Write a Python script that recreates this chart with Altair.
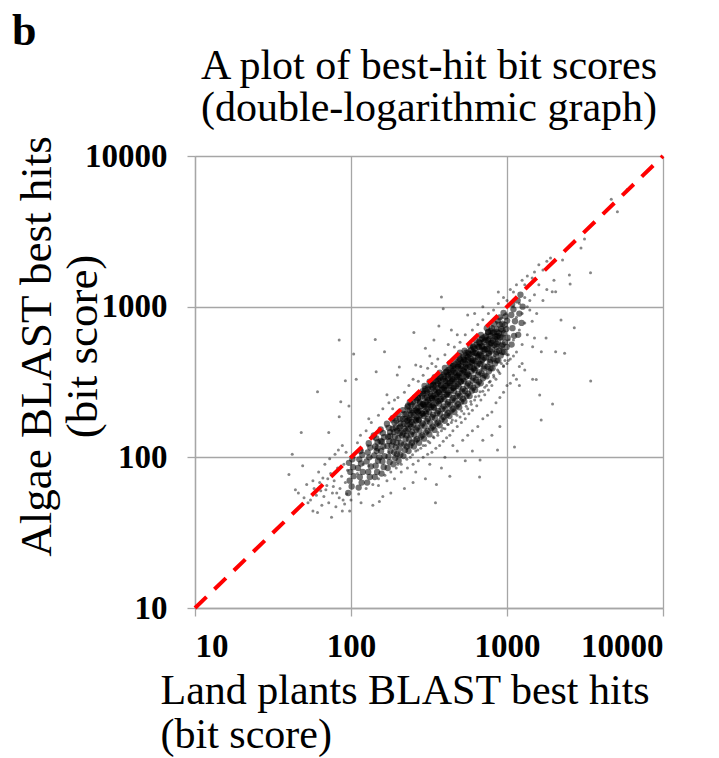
import altair as alt
import pandas as pd

title_lines = ["A plot of best-hit bit scores", "(double-logarithmic graph)"]
x_title = ["Land plants BLAST best hits", "(bit score)"]
y_title = ["Algae BLAST best hits", "(bit score)"]
tick_values = [10, 100, 1000, 10000]
diag_land = [10, 10000]
diag_algae = [10, 10000]
panel_label = ["b"]

# dense core of the cloud (land plants score, algae score)
core_pts = [
    (96,58),(101,64),(98,70),(104,75),(99,80),(103,86),(97,92),(102,97),
    (112,63),(117,68),(114,74),(119,80),(111,85),(116,91),(113,97),(118,104),(115,110),
    (127,68),(132,74),(129,80),(134,87),(126,94),(131,100),(128,108),(133,116),(130,124),
    (142,74),(147,80),(144,88),(149,95),(141,103),(146,110),(143,118),(148,126),(145,134),(140,140),
    (157,78),(162,86),(159,94),(164,102),(156,110),(161,118),(158,127),(163,136),(160,145),(155,153),
    (172,85),(177,93),(174,101),(179,110),(171,119),(176,128),(173,137),(178,147),(175,157),(170,167),
    (187,90),(192,99),(189,108),(194,117),(186,127),(191,137),(188,147),(193,158),(190,170),(185,182),
    (202,95),(207,104),(204,114),(209,124),(201,134),(206,145),(203,156),(208,168),(205,180),(200,193),
    (217,102),(222,112),(219,122),(224,133),(216,144),(221,155),(218,167),(223,180),(220,193),(215,206),
    (234,110),(240,120),(236,131),(242,142),(233,154),(239,166),(235,178),(241,191),(237,205),(232,220),(238,232),
    (253,118),(259,129),(255,141),(262,153),(251,165),(258,178),(254,191),(261,205),(256,219),(250,234),(257,250),
    (273,125),(280,137),(275,150),(283,163),(271,176),(278,190),(274,204),(281,218),(276,233),(270,248),(277,265),
    (294,133),(302,146),(297,160),(306,174),(292,188),(300,202),(295,217),(304,232),(298,248),(291,265),(299,283),(296,298),
    (318,142),(327,156),(321,170),(331,185),(316,200),(325,215),(320,231),(329,247),(323,264),(315,282),(324,300),(319,318),
    (343,152),(353,167),(346,182),(357,197),(341,213),(350,229),(345,246),(355,263),(348,281),(340,300),(349,320),(344,340),
    (370,163),(381,178),(373,194),(385,210),(367,227),(378,244),(372,262),(383,281),(375,300),(366,320),(376,342),(371,365),
    (399,175),(411,191),(403,208),(416,225),(397,243),(408,261),(401,280),(413,300),(405,321),(396,343),(406,366),(400,392),
    (428,188),(441,205),(432,223),(446,241),(426,260),(438,279),(431,299),(444,320),(435,342),(425,365),(436,390),(430,420),
    (460,200),(474,218),(465,237),(480,256),(457,276),(471,297),(463,318),(477,340),(468,363),(456,388),(469,414),(462,445),
    (494,215),(509,234),(499,254),(516,274),(491,295),(506,317),(497,339),(513,362),(502,387),(490,413),(504,440),(496,470),(500,495),
    (533,235),(550,255),(538,276),(556,297),(531,320),(547,343),(536,367),(553,392),(541,418),(530,445),(544,475),(535,510),
    (576,255),(595,277),(582,300),(602,323),(573,347),(591,372),(580,398),(598,425),(586,453),(572,483),(589,515),(578,550),
    (625,280),(646,303),(632,327),(653,352),(622,378),(642,405),(629,433),(649,462),(636,493),(620,525),(639,560),(627,600),
    (678,310),(701,335),(686,361),(710,388),(674,416),(697,445),(683,475),(706,507),(690,540),(672,575),(693,615),(680,650),
    (740,345),(766,372),(749,400),(776,430),(736,460),(762,492),(745,525),(772,560),(754,597),(733,636),(757,680),(742,720),
    (808,390),(837,420),(817,452),(847,485),(804,520),(832,556),(813,594),(842,633),(822,675),(800,720),(826,770),
    (880,440),(912,475),(890,510),(923,547),(876,585),(907,625),(886,667),(918,712),(895,760),(872,810),(899,850),
    (960,500),(996,540),(972,580),(1010,622),(955,665),(990,710),(968,758),(1003,808),(978,860),(950,910),
    (1070,560),(1110,640),(1085,720),(1125,800),(1065,880),(1100,960),(1080,1040),
    (1180,650),(1240,780),(1200,900),(1260,1000),(1170,1100),(1220,1200),
]

# extra density just below the diagonal
upper_pts = [
    (152,100),(148,115),(155,128),(182,120),(178,138),(185,155),
    (212,140),(207,160),(215,180),(243,160),(237,182),(246,205),
    (272,178),(267,202),(276,228),(269,250),(303,195),(297,222),(307,250),(300,275),
    (338,215),(331,245),(342,275),(335,305),(373,238),(366,270),(378,302),(370,335),
    (414,262),(405,297),(419,333),(410,370),(455,290),(446,328),(460,367),(450,405),
    (505,320),(494,362),(510,405),(498,450),(556,352),(543,398),(562,445),(548,495),
    (616,390),(603,440),(622,492),(607,545),(686,435),(672,490),(692,548),(677,605),
    (766,485),(752,545),(772,610),(757,675),(857,545),(842,610),(862,680),
    (225,150),(262,175),(288,195),(318,222),(352,250),(392,282),(432,312),(478,345),
    (528,382),(585,425),(648,470),(718,520),(795,575),(880,640),
    (230,175),(268,200),(292,225),(325,255),(360,288),(400,322),(440,356),(488,395),
    (540,440),(595,485),(660,540),(730,600),(810,665),
]

# points between the columns of the core
mid_pts = [
    (197,105),(196,125),(198,150),(195,175),
    (228,118),(227,140),(229,165),(226,195),(230,215),
    (246,125),(247,148),(245,172),(248,198),(244,225),
    (265,132),(266,158),(264,184),(267,212),(263,240),
    (287,140),(288,168),(286,196),(289,225),(285,255),(288,275),
    (310,150),(311,180),(309,210),(312,240),(308,270),(311,290),
    (335,160),(336,192),(334,222),(337,255),(333,290),(336,315),
    (362,170),(363,203),(361,236),(364,270),(360,308),(363,330),
    (392,185),(393,218),(391,252),(394,290),(390,330),(393,355),
    (420,197),(421,232),(419,270),(422,310),(418,352),(421,380),
    (452,210),(453,248),(451,288),(454,330),(450,376),(453,405),
    (486,225),(487,265),(485,307),(488,350),(484,400),(487,430),
    (522,245),(523,285),(521,330),(524,375),(520,428),(523,460),
    (562,265),(563,310),(561,358),(564,408),(560,462),(563,495),
    (608,290),(609,338),(607,388),(610,440),(606,500),(609,535),
    (660,318),(661,368),(659,420),(662,478),(658,540),(661,580),
    (718,350),(719,402),(717,458),(720,520),(716,585),(719,625),
    (785,390),(786,445),(784,505),(787,570),(783,640),(786,690),
    (860,440),(861,500),(859,565),(862,635),(858,710),
    (935,500),(936,560),(934,625),(937,695),(933,770),
]

# sparse points around the cloud
halo_pts = [
    (40,77),(42,105),(44,61),(46,58),(48,146),(49,88),(53,50),(57,44),(61,43),(61,272),
    (66,73),(69,61),(72,146),(75,40),(81,58),(84,186),(86,234),(88,44),(92,322),(97,219),
    (98,44),(104,485),(108,330),(116,50),(138,48),(152,51),
    (55,52),(58,62),(60,56),(63,68),(65,48),(67,55),(70,65),(72,50),(74,78),(76,58),
    (78,70),(80,47),(82,85),(85,62),(87,75),(89,52),(90,90),(92,68),(94,57),(95,82),
    (62,80),(68,90),(73,98),(79,105),(83,112),(88,120),(93,108),(57,70),(64,60),(71,72),
    (77,64),(84,54),(91,49),(50,54),(52,66),
    (84,600),(143,605),(253,675),(164,502),(198,352),(145,370),(204,398),(380,1160),(390,968),(366,743),
    (110,125),(125,150),(135,170),(150,190),(160,210),(175,230),(190,240),(115,140),(130,180),(170,260),
    (185,210),(200,250),(220,270),(235,300),(250,330),(270,320),(290,350),(310,390),(330,420),(350,400),
    (280,400),(320,470),(360,450),(400,480),(260,410),(300,530),(340,600),(420,560),(460,540),(500,580),
    (540,650),(600,700),(650,760),(700,820),(560,880),(480,650),(440,700),(620,900),(700,1000),(760,900),
    (820,950),(880,1050),(950,1150),(1000,1100),(1050,1300),(1100,1250),(880,1250),(1150,1400),(1250,1500),
    (1350,1600),(1300,1400),(1450,1550),(1500,1700),(1600,1900),(1700,1750),(1800,2000),(1900,2100),
    (1100,1000),(1200,1050),(1300,1150),(1250,900),(1400,1100),(1350,1000),(1500,1200),(1600,1400),
    (1400,950),(1150,850),(1300,780),(1450,800),(1550,900),(1700,1100),(1800,1300),(2000,1500),
    (1200,700),(1350,650),(1100,600),(1250,560),(1500,620),(1000,480),
    (150,65),(170,70),(190,72),(210,80),(230,85),(250,90),(270,95),(290,100),(310,105),(330,108),
    (350,115),(370,120),(390,128),(410,135),(430,140),(450,150),(480,160),(510,170),(540,180),(570,195),
    (600,205),(640,220),(680,240),(720,260),(760,280),(800,300),(850,330),(900,360),(950,400),(1000,420),
    (1050,450),(1100,470),(1150,500),
    (200,90),(240,100),(260,110),(280,115),(300,120),(320,125),(340,135),(360,140),(380,150),(400,155),
    (420,165),(440,170),(470,175),(500,185),(530,195),(560,210),(590,225),(620,240),(660,255),(700,275),
    (740,300),(780,320),(820,350),(870,380),(920,420),(970,440),(1020,480),
    (260,80),(320,90),(400,100),(450,120),(520,130),(600,150),(700,180),(800,200),(900,250),(1000,300),
    (1100,350),(1200,400),(380,85),(480,110),(560,140),(650,160),(750,190),(850,230),(950,270),(1050,310),
    (1150,330),(1250,420),(1300,380),(1200,300),(900,160),(800,140),(700,130),(600,110),(540,95),(430,75),
    (300,72),(250,68),(220,62),(180,58),(160,55),
    (105,100),(118,112),(128,120),(140,133),(152,145),(168,160),(182,173),(197,186),(213,200),(228,214),
    (245,230),(263,245),(284,262),(306,282),(328,302),(352,322),(378,346),(405,370),(433,396),(465,425),
    (498,455),(532,487),(570,520),(612,558),(655,598),(700,640),(750,685),(805,735),(860,785),(920,840),(985,900),
    (100,52),(112,57),(125,62),(138,66),(150,72),(165,76),(180,80),(195,85),(210,90),(228,97),
    (248,104),(268,112),(290,120),(312,128),(336,137),(360,146),(388,156),(416,166),(446,177),(478,190),
    (512,203),(548,218),(586,235),(628,252),(672,272),(720,292),(770,315),(825,340),(885,370),(950,405),(1020,440),
    (120,90),(135,100),(160,115),(185,130),(215,150),(245,170),(275,190),(310,212),(345,235),(385,262),
    (425,290),(470,320),(520,352),(575,390),(635,430),(700,475),(775,525),(855,580),(940,640),
    (110,78),(130,88),(155,98),(175,108),(205,122),(235,138),(265,155),(295,170),(330,190),(370,210),
    (410,232),(455,255),(505,280),(560,310),(620,345),(690,385),(765,430),(845,480),(930,535),(1030,600),
]

# isolated outliers far from the cloud
outlier_pts = [
    (5900,6000),(4660,5170),(5100,4260),(4200,4180),(3140,2810),(2980,2450),(3430,1680),(2540,1413),
    (2510,1620),(2270,2040),(1950,1256),(2050,1256),(2700,724),(2220,815),(1780,619),(2050,502),
    (2340,491),(1660,502),(1460,542),(3440,321),(1460,330),(1540,328),(1656,177),(1959,226),
    (1620,259),(1117,117),(667,74),(348,50),(353,66),(672,96),(869,112),
]

dense = pd.DataFrame(core_pts + upper_pts + mid_pts, columns=["land", "algae"])
sparse = pd.DataFrame(halo_pts + outlier_pts, columns=["land", "algae"])
diag = pd.DataFrame({"land": diag_land, "algae": diag_algae})
label_df = pd.DataFrame({"t": panel_label})

FONT = "Liberation Serif"

x_enc = alt.X(
    "land:Q",
    scale=alt.Scale(type="log", domain=[10, 10000]),
    axis=alt.Axis(
        values=tick_values, format="d", title=x_title,
        titleX=-35, titleY=62, titleAlign="left", titleBaseline="top",
        titleLineHeight=44, labelPadding=14, titleFontSize=42,
    ),
)
y_enc = alt.Y(
    "algae:Q",
    scale=alt.Scale(type="log", domain=[10, 10000]),
    axis=alt.Axis(
        values=tick_values, format="d", title=y_title,
        titleX=-136, titleY=190, titleAngle=270, titleAlign="center",
        titleBaseline="bottom", titleLineHeight=46, labelPadding=20, titleFontSize=45,
    ),
)

dense_layer = alt.Chart(dense).mark_circle(size=40, opacity=0.55, color="black").encode(x=x_enc, y=y_enc)
sparse_layer = alt.Chart(sparse).mark_circle(size=9, opacity=0.55, color="#222222").encode(x=x_enc, y=y_enc)
line_layer = alt.Chart(diag).mark_line(color="#ff0000", strokeWidth=4, strokeDash=[16, 11]).encode(x=x_enc, y=y_enc)
label_layer = alt.Chart(label_df).mark_text(
    font=FONT, fontSize=44, fontWeight="bold", align="left", baseline="alphabetic", color="black"
).encode(x=alt.value(-183), y=alt.value(-111), text="t:N")
title_layer = alt.Chart(label_df).mark_text(
    font=FONT, fontSize=42, fontWeight="normal", align="center", baseline="top",
    lineHeight=42, color="black", text=title_lines,
).encode(x=alt.value(234), y=alt.value(-110))

chart = (
    alt.layer(dense_layer, sparse_layer, line_layer, label_layer, title_layer)
    .properties(
        width=468,
        height=452,
        autosize=alt.AutoSizeParams(type="none"),
        padding={"left": 195, "top": 156, "right": 56, "bottom": 150},
    )
    .configure_view(stroke=None)
    .configure_axis(
        domainColor="#a6a6a6", gridColor="#a6a6a6", tickColor="#a6a6a6",
        domainWidth=1.3, gridWidth=1.3, tickWidth=1.3, tickSize=8,
        labelFont=FONT, labelFontSize=33, labelFontWeight="bold", labelColor="black",
        titleFont=FONT, titleFontWeight="normal", titleColor="black",
    )
)

chart.save("out.html", embed_options={"renderer": "svg", "actions": False})
